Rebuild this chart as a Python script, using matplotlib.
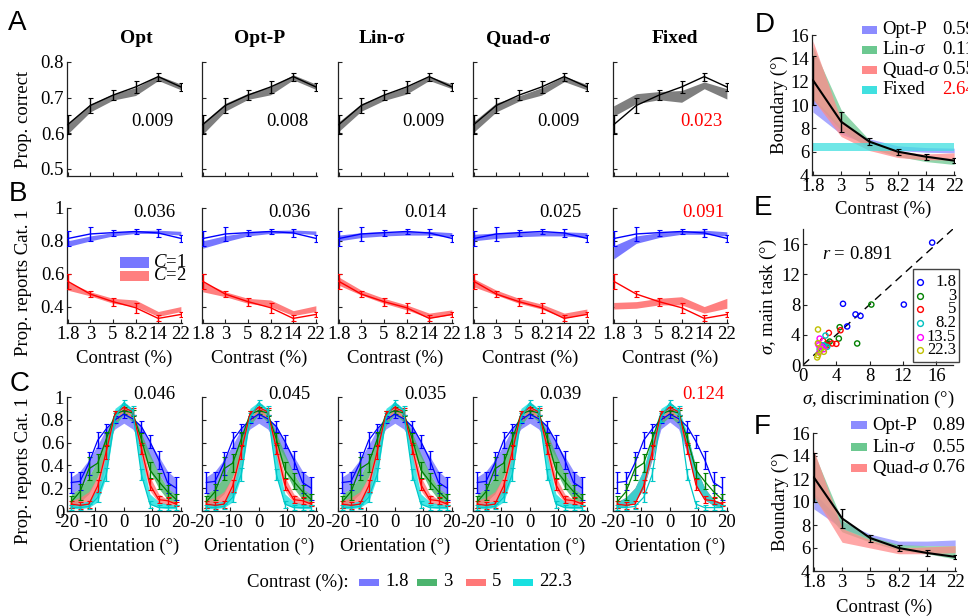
import matplotlib
matplotlib.use("Agg")
import matplotlib.pyplot as plt
from matplotlib.lines import Line2D
from matplotlib.patches import Rectangle

W, H = 968, 616

plt.rcParams["font.family"] = ["Liberation Serif", "DejaVu Serif"]
plt.rcParams["mathtext.fontset"] = "custom"
plt.rcParams["mathtext.rm"] = "Liberation Serif"
plt.rcParams["mathtext.it"] = "Liberation Serif:italic"
plt.rcParams["xtick.direction"] = "in"
plt.rcParams["ytick.direction"] = "in"

# ---------------- data ----------------
MODELS = ["Opt", "Opt-P", "Lin-σ", "Quad-σ", "Fixed"]
TITLE_X = [0.60, 0.50, 0.38, 0.39, 0.54]
CONTRAST_TICKS = ["1.8", "3", "5", "8.2", "14", "22"]
CX = [0, 1, 2, 3, 4, 5]

# A: proportion correct
A_DATA = [0.624, 0.678, 0.707, 0.730, 0.759, 0.730]
A_ERR = [0.026, 0.020, 0.014, 0.017, 0.011, 0.012]
A_LO = {
    "Opt": [0.598, 0.660, 0.693, 0.706, 0.748, 0.722],
    "Opt-P": [0.597, 0.662, 0.695, 0.708, 0.750, 0.723],
    "Lin-σ": [0.605, 0.662, 0.692, 0.710, 0.748, 0.725],
    "Quad-σ": [0.603, 0.660, 0.690, 0.707, 0.745, 0.722],
    "Fixed": [0.648, 0.683, 0.694, 0.687, 0.725, 0.696],
}
A_HI = {
    "Opt": [0.628, 0.682, 0.710, 0.728, 0.762, 0.738],
    "Opt-P": [0.630, 0.684, 0.712, 0.730, 0.764, 0.738],
    "Lin-σ": [0.632, 0.683, 0.708, 0.730, 0.760, 0.738],
    "Quad-σ": [0.633, 0.685, 0.705, 0.728, 0.760, 0.737],
    "Fixed": [0.677, 0.711, 0.717, 0.720, 0.744, 0.725],
}
A_SCORE = ["0.009", "0.008", "0.009", "0.009", "0.023"]

# B: proportion reports category 1, per true category
B1_DATA = [0.814, 0.842, 0.850, 0.857, 0.848, 0.815]
B1_ERR = [0.045, 0.040, 0.018, 0.015, 0.022, 0.022]
B2_DATA = [0.554, 0.476, 0.430, 0.393, 0.328, 0.352]
B2_ERR = [0.045, 0.018, 0.025, 0.030, 0.018, 0.018]
B1_LO = {
    "Opt": [0.765, 0.800, 0.830, 0.845, 0.845, 0.835],
    "Opt-P": [0.755, 0.795, 0.830, 0.845, 0.848, 0.838],
    "Lin-σ": [0.800, 0.820, 0.830, 0.835, 0.835, 0.825],
    "Quad-σ": [0.800, 0.815, 0.825, 0.830, 0.830, 0.820],
    "Fixed": [0.690, 0.785, 0.820, 0.840, 0.840, 0.830],
}
B1_HI = {
    "Opt": [0.800, 0.830, 0.850, 0.862, 0.865, 0.858],
    "Opt-P": [0.800, 0.832, 0.852, 0.863, 0.866, 0.860],
    "Lin-σ": [0.835, 0.850, 0.855, 0.857, 0.858, 0.850],
    "Quad-σ": [0.840, 0.848, 0.852, 0.855, 0.855, 0.850],
    "Fixed": [0.770, 0.830, 0.850, 0.860, 0.865, 0.855],
}
B2_LO = {
    "Opt": [0.500, 0.465, 0.420, 0.400, 0.340, 0.370],
    "Opt-P": [0.490, 0.460, 0.420, 0.400, 0.345, 0.370],
    "Lin-σ": [0.530, 0.470, 0.420, 0.380, 0.330, 0.350],
    "Quad-σ": [0.520, 0.470, 0.420, 0.385, 0.330, 0.355],
    "Fixed": [0.385, 0.390, 0.410, 0.410, 0.360, 0.390],
}
B2_HI = {
    "Opt": [0.550, 0.490, 0.450, 0.440, 0.370, 0.400],
    "Opt-P": [0.550, 0.490, 0.450, 0.440, 0.375, 0.405],
    "Lin-σ": [0.580, 0.500, 0.450, 0.410, 0.360, 0.380],
    "Quad-σ": [0.570, 0.500, 0.450, 0.415, 0.360, 0.385],
    "Fixed": [0.425, 0.430, 0.450, 0.460, 0.400, 0.450],
}
B_SCORE = ["0.036", "0.036", "0.014", "0.025", "0.091"]

# C: psychometric curves vs orientation
C_ORI = [-18.5, -15.4, -12.3, -9.2, -6.2, -3.1, 0, 3.1, 6.2, 9.2, 12.3, 15.4, 18.5]
C_LEVELS = ["1.8", "3", "5", "22.3"]
C_DATA = {
    "1.8": [0.25, 0.26, 0.42, 0.62, 0.72, 0.80, 0.85, 0.81, 0.74, 0.61, 0.45, 0.25, 0.20],
    "3": [0.08, 0.17, 0.37, 0.42, 0.63, 0.85, 0.88, 0.86, 0.63, 0.36, 0.26, 0.17, 0.10],
    "5": [0.06, 0.05, 0.06, 0.22, 0.52, 0.85, 0.91, 0.87, 0.55, 0.23, 0.10, 0.09, 0.06],
    "22.3": [0.03, 0.03, 0.04, 0.12, 0.32, 0.82, 0.95, 0.88, 0.32, 0.06, 0.03, 0.03, 0.03],
}
C_ERR = {
    "1.8": [0.09, 0.08, 0.10, 0.07, 0.04, 0.03, 0.03, 0.03, 0.05, 0.06, 0.08, 0.09, 0.10],
    "3": [0.05, 0.07, 0.10, 0.08, 0.06, 0.03, 0.03, 0.03, 0.05, 0.07, 0.07, 0.06, 0.05],
    "5": [0.03, 0.03, 0.03, 0.05, 0.06, 0.03, 0.02, 0.03, 0.05, 0.05, 0.03, 0.03, 0.02],
    "22.3": [0.02, 0.02, 0.02, 0.04, 0.06, 0.04, 0.02, 0.04, 0.05, 0.03, 0.02, 0.02, 0.02],
}
C_LO = {
    "1.8": [0.15, 0.20, 0.30, 0.45, 0.60, 0.72, 0.77, 0.72, 0.60, 0.47, 0.33, 0.20, 0.13],
    "3": [0.05, 0.08, 0.15, 0.30, 0.50, 0.75, 0.85, 0.78, 0.55, 0.35, 0.20, 0.10, 0.05],
    "5": [0.04, 0.04, 0.06, 0.15, 0.40, 0.78, 0.88, 0.80, 0.45, 0.18, 0.07, 0.05, 0.04],
    "22.3": [0.02, 0.02, 0.03, 0.08, 0.30, 0.80, 0.92, 0.83, 0.30, 0.06, 0.03, 0.02, 0.02],
}
C_HI = {
    "1.8": [0.30, 0.35, 0.45, 0.58, 0.72, 0.82, 0.85, 0.82, 0.75, 0.60, 0.48, 0.35, 0.28],
    "3": [0.15, 0.20, 0.30, 0.45, 0.65, 0.85, 0.90, 0.86, 0.68, 0.50, 0.33, 0.20, 0.14],
    "5": [0.09, 0.12, 0.17, 0.30, 0.55, 0.87, 0.92, 0.88, 0.60, 0.30, 0.15, 0.10, 0.08],
    "22.3": [0.06, 0.07, 0.09, 0.20, 0.50, 0.90, 0.96, 0.90, 0.48, 0.15, 0.08, 0.06, 0.05],
}
C_FIX_LO = {
    "1.8": [0.03, 0.04, 0.08, 0.20, 0.45, 0.72, 0.78, 0.72, 0.50, 0.22, 0.10, 0.05, 0.03],
    "3": [0.03, 0.04, 0.08, 0.20, 0.47, 0.76, 0.83, 0.76, 0.52, 0.22, 0.10, 0.05, 0.03],
    "5": [0.03, 0.04, 0.08, 0.20, 0.48, 0.79, 0.86, 0.79, 0.53, 0.22, 0.10, 0.05, 0.03],
    "22.3": [0.03, 0.04, 0.08, 0.20, 0.50, 0.82, 0.90, 0.82, 0.55, 0.22, 0.10, 0.05, 0.03],
}
C_FIX_HI = {
    "1.8": [0.08, 0.12, 0.20, 0.35, 0.62, 0.82, 0.84, 0.80, 0.65, 0.38, 0.20, 0.10, 0.07],
    "3": [0.08, 0.12, 0.20, 0.36, 0.64, 0.85, 0.88, 0.84, 0.66, 0.38, 0.20, 0.10, 0.07],
    "5": [0.08, 0.12, 0.20, 0.36, 0.65, 0.87, 0.91, 0.87, 0.67, 0.38, 0.20, 0.10, 0.07],
    "22.3": [0.08, 0.12, 0.20, 0.37, 0.66, 0.90, 0.95, 0.90, 0.68, 0.38, 0.20, 0.10, 0.07],
}
C_SCORE = ["0.046", "0.045", "0.035", "0.039", "0.124"]

# D / F: boundary vs contrast
BND_DATA = [12.14, 8.57, 6.86, 6.00, 5.57, 5.23]
BND_ERR = [2.1, 0.86, 0.30, 0.25, 0.25, 0.20]
D_MODELS = ["Opt-P", "Lin-$\\sigma$", "Quad-$\\sigma$", "Fixed"]
D_SCORES = ["0.59", "0.11", "0.55", "2.64"]
D_LO = {
    "Opt-P": [9.4, 7.5, 6.6, 6.1, 5.95, 5.9],
    "Lin-$\\sigma$": [10.5, 7.8, 6.3, 5.6, 5.15, 4.9],
    "Quad-$\\sigma$": [10.5, 7.3, 6.1, 5.5, 5.3, 5.3],
    "Fixed": [6.1, 6.1, 6.1, 6.1, 6.1, 6.1],
}
D_HI = {
    "Opt-P": [10.6, 8.2, 7.1, 6.5, 6.35, 6.3],
    "Lin-$\\sigma$": [15.0, 9.6, 7.0, 6.1, 5.7, 5.4],
    "Quad-$\\sigma$": [15.5, 8.7, 6.8, 6.0, 5.8, 5.9],
    "Fixed": [6.75, 6.75, 6.75, 6.75, 6.75, 6.75],
}
F_MODELS = ["Opt-P", "Lin-$\\sigma$", "Quad-$\\sigma$"]
F_SCORES = ["0.89", "0.55", "0.76"]
F_LO = {
    "Opt-P": [9.4, 7.7, 6.8, 6.2, 6.2, 6.2],
    "Lin-$\\sigma$": [10.3, 7.4, 6.5, 5.8, 5.5, 5.05],
    "Quad-$\\sigma$": [10.5, 6.5, 6.0, 5.5, 5.5, 5.6],
}
F_HI = {
    "Opt-P": [10.8, 8.3, 7.2, 6.6, 6.6, 6.7],
    "Lin-$\\sigma$": [14.3, 8.4, 7.0, 6.3, 6.2, 6.2],
    "Quad-$\\sigma$": [14.5, 7.7, 6.7, 6.0, 6.1, 6.2],
}

# E: sigma from discrimination vs main task
E_LEVELS = ["1.8", "3", "5", "8.2", "13.5", "22.3"]
E_DISC = {
    "1.8": [15.5, 4.8, 12.1, 6.3, 6.9, 5.3],
    "3": [8.2, 6.5, 4.4, 4.3, 3.2, 2.9],
    "5": [3.1, 4.5, 4.0, 2.4, 2.9, 3.5],
    "8.2": [2.7, 2.9, 2.4, 2.3, 2.0, 2.5],
    "13.5": [2.0, 1.9, 2.3, 2.5, 2.0, 1.8],
    "22.3": [1.8, 1.8, 2.1, 2.5, 1.8, 1.7],
}
E_MAIN = {
    "1.8": [16.2, 8.1, 8.0, 6.7, 6.5, 5.1],
    "3": [8.0, 2.85, 5.0, 3.5, 3.1, 2.85],
    "5": [4.25, 4.6, 2.8, 3.2, 2.6, 2.85],
    "8.2": [3.9, 2.4, 2.6, 2.3, 2.1, 2.6],
    "13.5": [3.5, 2.6, 2.4, 2.1, 1.75, 2.8],
    "22.3": [4.7, 2.9, 2.1, 1.75, 1.3, 1.0],
}

# colours
C_LINE = {"1.8": "#0000ff", "3": "#008000", "5": "#ff0000", "22.3": "#00c8c8"}
C_BAND = {"1.8": "#7878ff", "3": "#4cb46e", "5": "#ff7878", "22.3": "#18e0e0"}
D_BAND = {"Opt-P": "#8c8cff", "Lin-$\\sigma$": "#6cc890", "Quad-$\\sigma$": "#ff8a8a", "Fixed": "#40e0e0"}
E_COL = {"1.8": "#0000ff", "3": "#008000", "5": "#ff0000", "8.2": "#00c0c0",
         "13.5": "#ff00ff", "22.3": "#c0c000"}

SANS = "Liberation Sans"
FS = 13.5


def add_ax(fig, left, top, right, bottom):
    return fig.add_axes([left / W, 1 - bottom / H, (right - left) / W, (bottom - top) / H])


def style(ax):
    for s in ("top", "right"):
        ax.spines[s].set_visible(False)
    for s in ("left", "bottom"):
        ax.spines[s].set_color("#222222")
        ax.spines[s].set_linewidth(0.9)
    ax.tick_params(labelsize=FS, length=3, width=0.8, pad=2, colors="#222222",
                   labelcolor="black")


def ftext(fig, x, y, s, **kw):
    return fig.text(x / W, 1 - y / H, s, **kw)


def errbar(ax, x, y, e, color, lw=1.0):
    ax.errorbar(x, y, yerr=e, color=color, lw=lw, elinewidth=1.0, capsize=1.8,
                capthick=0.8, zorder=5)


fig = plt.figure(figsize=(W / 100, H / 100), dpi=100)

A_LEFT = [67, 202, 338, 473, 613]
AXW = 115

for i, m in enumerate(MODELS):
    l = A_LEFT[i]
    red = m == "Fixed"
    # ---- row A ----
    ax = add_ax(fig, l, 62, l + AXW, 176)
    style(ax)
    ax.fill_between(CX, A_LO[m], A_HI[m], color="#7f7f7f", lw=0, zorder=2)
    errbar(ax, CX, A_DATA, A_ERR, "black")
    ax.set_xlim(-0.03, 5.05)
    ax.set_ylim(0.48, 0.8)
    ax.set_yticks([0.5, 0.6, 0.7, 0.8])
    ax.set_xticks(CX)
    ax.set_xticklabels([])
    if i > 0:
        ax.set_yticklabels([])
    ax.text(0.93 if not red else 0.95, 0.48, A_SCORE[i], transform=ax.transAxes,
            ha="right", va="center", fontsize=FS, color="red" if red else "black")
    ax.set_title(m, fontsize=14, fontweight="bold", pad=14, x=TITLE_X[i])

    # ---- row B ----
    ax = add_ax(fig, l, 208, l + AXW, 323)
    style(ax)
    ax.fill_between(CX, B1_LO[m], B1_HI[m], color="#7777ff", lw=0, zorder=2)
    ax.fill_between(CX, B2_LO[m], B2_HI[m], color="#ff7f7f", lw=0, zorder=2)
    errbar(ax, CX, B1_DATA, B1_ERR, "#0000ff")
    errbar(ax, CX, B2_DATA, B2_ERR, "#ff0000")
    ax.set_xlim(-0.03, 5.05)
    ax.set_ylim(0.3, 1.0)
    ax.set_yticks([0.4, 0.6, 0.8, 1.0])
    ax.set_yticklabels(["0.4", "0.6", "0.8", "1"] if i == 0 else [])
    ax.set_xticks(CX)
    ax.set_xticklabels(CONTRAST_TICKS)
    ax.set_xlabel("Contrast (%)", fontsize=FS, labelpad=5)
    ax.text(0.94 if not red else 0.97, 0.965, B_SCORE[i], transform=ax.transAxes,
            ha="right", va="center", fontsize=FS, color="red" if red else "black")
    if i == 0:
        ax.add_patch(Rectangle((0.46, 0.48), 0.25, 0.09, transform=ax.transAxes,
                               color="#7777ff", lw=0))
        ax.add_patch(Rectangle((0.46, 0.365), 0.25, 0.09, transform=ax.transAxes,
                               color="#ff7f7f", lw=0))
        ax.text(0.75, 0.525, "$C$=1", transform=ax.transAxes, va="center", fontsize=FS)
        ax.text(0.75, 0.41, "$C$=2", transform=ax.transAxes, va="center", fontsize=FS)

    # ---- row C ----
    ax = add_ax(fig, l, 397, l + AXW, 511)
    style(ax)
    lo = C_FIX_LO if red else C_LO
    hi = C_FIX_HI if red else C_HI
    for c in C_LEVELS:
        ax.fill_between(C_ORI, lo[c], hi[c], color=C_BAND[c], lw=0, alpha=0.8, zorder=2)
    for c in C_LEVELS:
        errbar(ax, C_ORI, C_DATA[c], C_ERR[c], C_LINE[c], lw=0.9)
    ax.set_xlim(-20, 20.5)
    ax.set_ylim(0, 1)
    ax.set_yticks([0, 0.2, 0.4, 0.6, 0.8, 1.0])
    ax.set_yticklabels(["0", "0.2", "0.4", "0.6", "0.8", "1"] if i == 0 else [])
    ax.set_xticks([-20, -10, 0, 10, 20])
    ax.set_xticklabels(["-20", "-10", "0", "10", "20"])
    ax.set_xlabel("Orientation (°)", fontsize=FS, labelpad=5)
    ax.text(0.94 if not red else 0.97, 1.02, C_SCORE[i], transform=ax.transAxes,
            ha="right", va="center", fontsize=FS, color="red" if red else "black")

# y labels of left column
ftext(fig, 24, 119, "Prop. correct", rotation=90, ha="center", va="center", fontsize=FS)
ftext(fig, 24, 283, "Prop. reports Cat. 1", rotation=90, ha="center", va="center", fontsize=FS)
ftext(fig, 24, 471, "Prop. reports Cat. 1", rotation=90, ha="center", va="center", fontsize=FS)

# bottom legend for C
ftext(fig, 247, 582, "Contrast (%):", ha="left", va="center", fontsize=FS)
leg_x = [359, 417, 466, 513]
for x, c in zip(leg_x, C_LEVELS):
    fig.patches.append(Rectangle((x / W, 1 - 586 / H), 20 / W, 7 / H, transform=fig.transFigure,
                                 color=C_BAND[c], lw=0))
    ftext(fig, x + 26, 582, c, ha="left", va="center", fontsize=FS)


def boundary_panel(top, bottom, left, right, models, lo, hi, xlabel_pad):
    ax = add_ax(fig, left, top, right, bottom)
    style(ax)
    for m in models:
        ax.fill_between(CX, lo[m], hi[m], color=D_BAND[m], lw=0, alpha=0.75, zorder=2)
    errbar(ax, CX, BND_DATA, BND_ERR, "black", lw=1.5)
    ax.set_xlim(-0.03, 5.03)
    ax.set_ylim(4, 16)
    ax.set_yticks([4, 6, 8, 10, 12, 14, 16])
    ax.set_xticks(CX)
    ax.set_xticklabels(CONTRAST_TICKS)
    ax.set_xlabel("Contrast (%)", fontsize=FS, labelpad=xlabel_pad)
    ax.set_ylabel("Boundary (°)", fontsize=FS, labelpad=2)
    return ax


# ---- D ----
boundary_panel(35, 175, 812, 955, D_MODELS, D_LO, D_HI, 4)
for k, m in enumerate(D_MODELS):
    y = [30, 50, 70, 90][k]
    fig.patches.append(Rectangle((862 / W, 1 - (y + 4) / H), 15 / W, 8 / H,
                                 transform=fig.transFigure, color=D_BAND[m], lw=0))
    ftext(fig, 882, y, m, ha="left", va="center", fontsize=FS)
    ftext(fig, 942, y, D_SCORES[k], ha="left", va="center", fontsize=FS,
          color="red" if m == "Fixed" else "black")

# ---- F ----
boundary_panel(433, 571, 813, 956, F_MODELS, F_LO, F_HI, 6)
for k, m in enumerate(F_MODELS):
    y = [425, 447, 468][k]
    fig.patches.append(Rectangle((851 / W, 1 - (y + 4) / H), 16 / W, 8 / H,
                                 transform=fig.transFigure, color=D_BAND[m], lw=0))
    ftext(fig, 872, y, m, ha="left", va="center", fontsize=FS)
    ftext(fig, 932, y, F_SCORES[k], ha="left", va="center", fontsize=FS)

# ---- E ----
ax = add_ax(fig, 803, 229, 953, 365)
style(ax)
ax.plot([0, 18], [0, 18], ls=(0, (6, 4)), color="black", lw=1, zorder=1)
for c in E_LEVELS:
    ax.scatter(E_DISC[c], E_MAIN[c], s=14, facecolors="none", edgecolors=E_COL[c],
               linewidths=1.0, zorder=3)
ax.set_xlim(0, 18)
ax.set_ylim(0, 18)
ax.set_xticks([0, 4, 8, 12, 16])
ax.set_yticks([0, 4, 8, 12, 16])
ax.set_xlabel("$\\sigma$, discrimination (°)", fontsize=FS, labelpad=3)
ax.set_ylabel("$\\sigma$, main task (°)", fontsize=FS, labelpad=2)
ax.text(0.13, 0.81, "$r$ = 0.891", transform=ax.transAxes, fontsize=FS, va="center")

# E legend: boxed, labels right-aligned
fig.patches.append(Rectangle((913 / W, 1 - 362 / H), 46 / W, 93 / H, transform=fig.transFigure,
                             fill=False, edgecolor="#444444", lw=1.0, zorder=6))
for k, c in enumerate(E_LEVELS):
    y = [282, 296, 309, 323, 337, 350][k]
    fig.add_artist(Line2D([920 / W], [1 - y / H], marker="o", ms=4.2, mfc="none",
                          mec=E_COL[c], mew=1.0, transform=fig.transFigure))
    ftext(fig, 956, y, c, ha="right", va="center", fontsize=12)

# panel letters
for letter, x, y in [("A", 8, 23), ("B", 9, 194), ("C", 10, 384),
                     ("D", 755, 25), ("E", 754, 208), ("F", 754, 427)]:
    ftext(fig, x, y, letter, family=SANS, fontsize=20, ha="left", va="center")

fig.savefig("out.png", dpi=100)
